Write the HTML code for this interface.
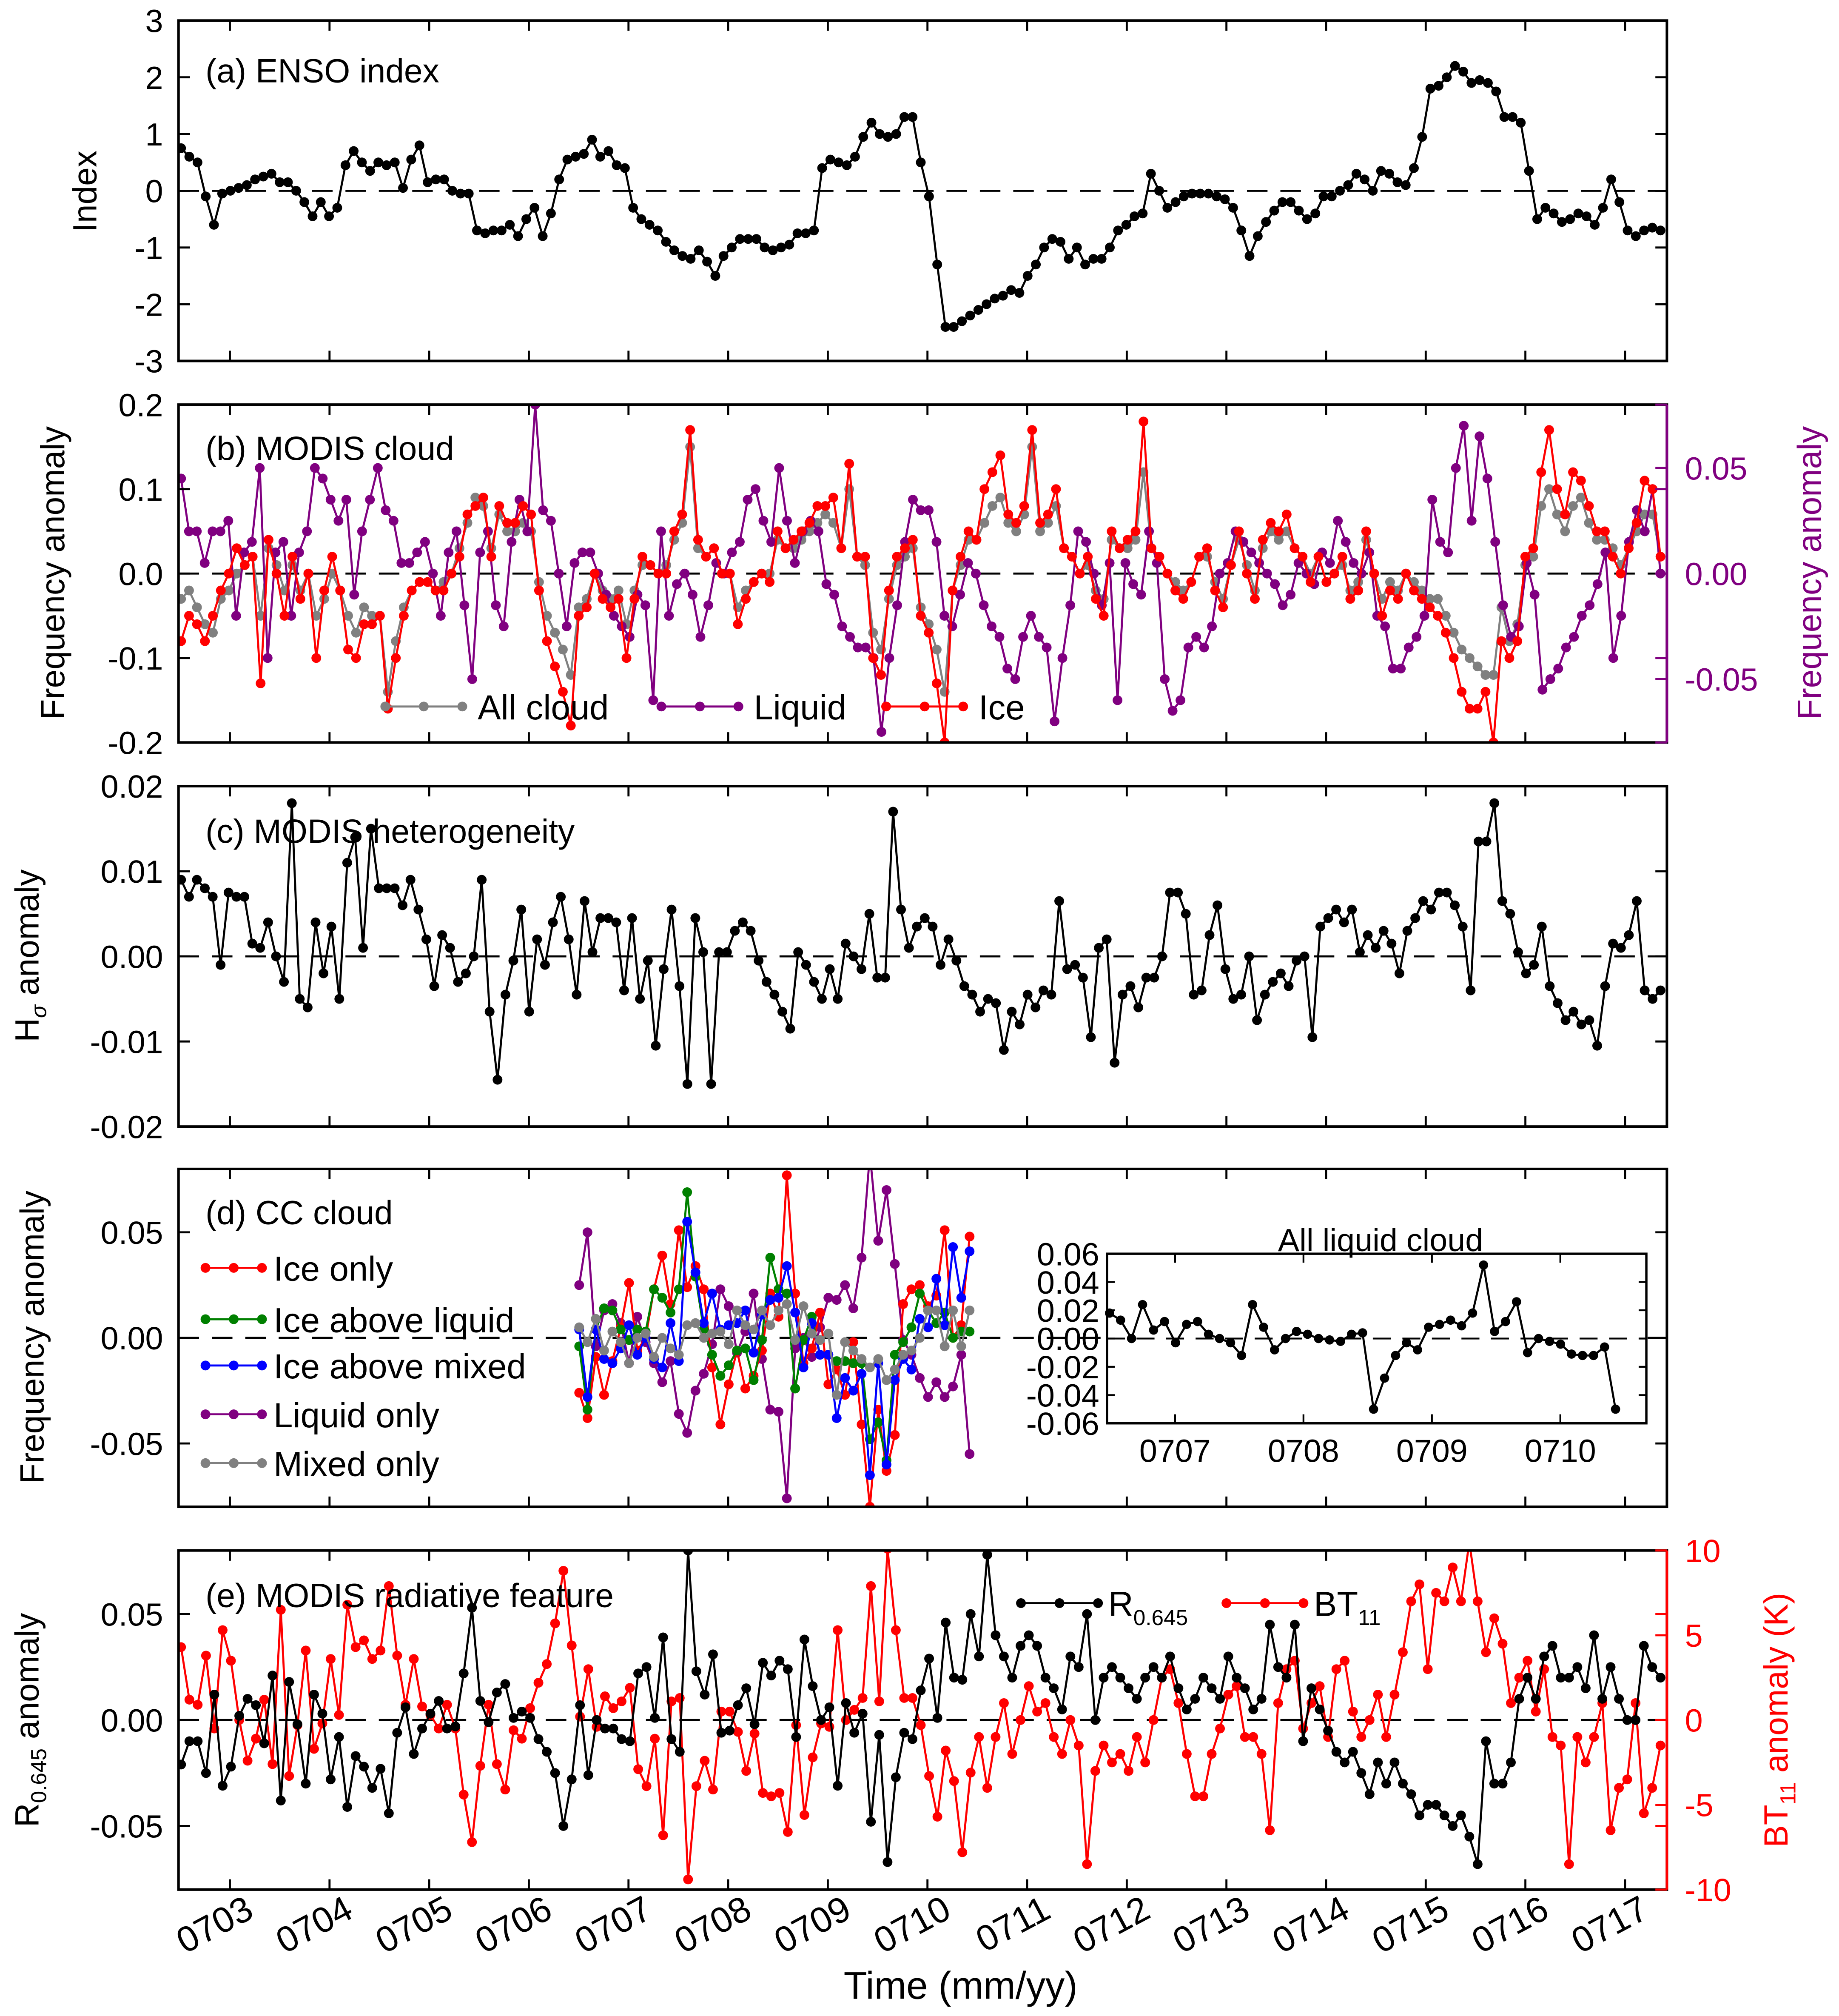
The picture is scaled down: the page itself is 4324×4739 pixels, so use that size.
<!DOCTYPE html>
<html><head><meta charset="utf-8"><style>
html,body{margin:0;padding:0;background:#fff}
svg{display:block}
text{font-family:"Liberation Sans",Arial,sans-serif}
</style></head><body>
<svg id="fig" xmlns="http://www.w3.org/2000/svg" width="4324" height="4739" viewBox="0 0 1432 1569.4" preserveAspectRatio="none">
<rect width="1432" height="1569.4" fill="#fff"/>
</svg>
<script>
// ---------- DATA ----------
const monthTicks = ["0703","0704","0705","0706","0707","0708","0709","0710","0711","0712","0713","0714","0715","0716","0717"];
const ensoIndex = [0.75,0.6,0.5,-0.1,-0.6,-0.05,0.0,0.05,0.1,0.2,0.25,0.3,0.15,0.15,0.0,-0.2,-0.45,-0.2,-0.45,-0.3,0.45,0.7,0.5,0.35,0.5,0.45,0.5,0.05,0.55,0.8,0.15,0.2,0.2,0.0,-0.05,-0.05,-0.7,-0.75,-0.7,-0.7,-0.6,-0.8,-0.5,-0.3,-0.8,-0.4,0.2,0.55,0.6,0.65,0.9,0.6,0.7,0.45,0.4,-0.3,-0.5,-0.6,-0.7,-0.9,-1.05,-1.15,-1.2,-1.05,-1.25,-1.5,-1.15,-1.0,-0.85,-0.85,-0.85,-1.0,-1.05,-1.0,-0.95,-0.75,-0.75,-0.7,0.4,0.55,0.5,0.45,0.6,0.95,1.2,1.0,0.95,1.0,1.3,1.3,0.5,-0.1,-1.3,-2.4,-2.4,-2.3,-2.2,-2.1,-2.0,-1.9,-1.85,-1.75,-1.8,-1.5,-1.3,-1.0,-0.85,-0.9,-1.2,-1.0,-1.3,-1.2,-1.2,-1.0,-0.7,-0.6,-0.45,-0.4,0.3,0.0,-0.3,-0.2,-0.1,-0.05,-0.05,-0.05,-0.1,-0.15,-0.3,-0.7,-1.15,-0.8,-0.55,-0.35,-0.2,-0.2,-0.35,-0.5,-0.4,-0.1,-0.1,0.0,0.1,0.3,0.2,0.0,0.35,0.3,0.15,0.1,0.4,0.95,1.8,1.85,2.0,2.2,2.1,1.9,1.95,1.9,1.75,1.3,1.3,1.2,0.35,-0.5,-0.3,-0.4,-0.55,-0.5,-0.4,-0.45,-0.6,-0.3,0.2,-0.2,-0.7,-0.8,-0.7,-0.65,-0.7];
const iceFreq = [-0.08,-0.05,-0.06,-0.08,-0.05,-0.02,0.0,0.03,0.01,0.02,-0.13,0.04,0.0,-0.05,0.02,-0.03,0.0,-0.1,-0.02,0.02,-0.02,-0.09,-0.1,-0.06,-0.06,-0.05,-0.16,-0.1,-0.05,-0.02,-0.01,-0.01,-0.02,-0.02,0.0,0.02,0.07,0.08,0.09,0.02,0.08,0.06,0.06,0.08,0.07,-0.02,-0.08,-0.11,-0.14,-0.18,-0.05,-0.04,0.0,-0.03,-0.04,-0.03,-0.1,-0.03,0.02,0.01,0.0,0.0,0.05,0.07,0.17,0.04,0.02,0.03,0.0,0.0,-0.06,-0.03,-0.01,0.0,-0.01,0.05,0.03,0.04,0.05,0.06,0.08,0.08,0.09,0.03,0.13,0.02,0.02,-0.1,-0.12,-0.02,0.02,0.03,0.04,-0.05,-0.07,-0.13,-0.2,-0.02,0.02,0.05,0.04,0.1,0.12,0.14,0.07,0.06,0.08,0.17,0.06,0.07,0.1,0.03,0.02,0.0,0.02,-0.03,-0.05,0.05,0.03,0.04,0.05,0.18,0.03,0.02,0.0,-0.02,-0.03,-0.01,0.02,0.03,-0.02,-0.04,0.01,0.05,0.0,-0.03,0.04,0.06,0.05,0.07,0.03,0.02,-0.01,0.02,-0.01,0.0,0.02,-0.03,-0.02,0.05,0.0,-0.05,-0.02,-0.03,0.0,-0.02,-0.03,-0.04,-0.05,-0.07,-0.1,-0.14,-0.16,-0.16,-0.14,-0.2,-0.08,-0.1,-0.08,0.02,0.03,0.12,0.17,0.1,0.07,0.12,0.11,0.08,0.05,0.05,0.02,0.0,0.03,0.06,0.11,0.1,0.02];
const allCloudFreq = [-0.03,-0.02,-0.04,-0.06,-0.07,-0.03,-0.02,0.0,0.01,0.02,-0.05,0.03,0.01,-0.02,0.01,-0.02,0.0,-0.05,-0.03,0.0,-0.02,-0.05,-0.07,-0.04,-0.05,-0.05,-0.14,-0.08,-0.04,-0.02,-0.01,-0.01,-0.02,-0.01,0.0,0.03,0.06,0.09,0.08,0.03,0.07,0.05,0.05,0.06,0.05,-0.01,-0.05,-0.07,-0.09,-0.12,-0.04,-0.03,0.0,-0.02,-0.03,-0.02,-0.06,-0.02,0.01,0.01,0.0,0.01,0.04,0.06,0.15,0.03,0.02,0.03,0.0,0.0,-0.04,-0.02,-0.01,0.0,0.0,0.04,0.03,0.03,0.04,0.05,0.06,0.07,0.06,0.03,0.1,0.02,0.01,-0.07,-0.09,-0.03,0.01,0.02,0.03,-0.04,-0.06,-0.09,-0.14,-0.02,0.01,0.04,0.04,0.06,0.08,0.09,0.06,0.05,0.07,0.15,0.05,0.06,0.08,0.03,0.02,0.0,0.01,-0.02,-0.03,0.04,0.03,0.03,0.04,0.12,0.03,0.02,0.0,-0.01,-0.02,-0.01,0.02,0.02,-0.01,-0.03,0.01,0.04,0.01,-0.02,0.03,0.05,0.04,0.05,0.03,0.02,0.0,0.02,-0.01,0.0,0.01,-0.02,-0.01,0.04,0.0,-0.03,-0.01,-0.02,0.0,-0.01,-0.02,-0.03,-0.03,-0.05,-0.07,-0.09,-0.1,-0.11,-0.12,-0.12,-0.04,-0.08,-0.06,0.01,0.02,0.08,0.1,0.07,0.05,0.08,0.09,0.06,0.04,0.04,0.03,0.01,0.03,0.05,0.07,0.07,0.02];
const liquidFreq = [0.045,0.02,0.02,0.005,0.02,0.02,0.025,-0.02,0.01,0.015,0.05,-0.04,0.01,0.015,-0.02,0.01,0.02,0.05,0.045,0.035,0.025,0.035,-0.01,0.02,0.035,0.05,0.03,0.025,0.005,0.005,0.01,0.015,0.0,-0.02,0.01,0.02,-0.015,-0.05,0.01,0.02,-0.015,-0.025,0.015,0.035,0.02,0.08,0.03,0.025,0.0,-0.025,0.005,0.01,0.01,0.0,-0.01,-0.02,-0.025,-0.03,-0.01,-0.015,-0.06,0.02,-0.02,-0.005,0.0,-0.01,-0.03,-0.015,0.005,0.0,0.01,0.015,0.035,0.04,0.025,0.015,0.05,0.025,0.005,0.02,0.025,0.02,-0.005,-0.01,-0.025,-0.03,-0.035,-0.035,-0.04,-0.075,-0.04,-0.015,0.015,0.035,0.03,0.03,0.015,-0.02,-0.025,-0.01,0.005,0.0,-0.015,-0.025,-0.03,-0.045,-0.05,-0.03,-0.02,-0.03,-0.035,-0.07,-0.04,-0.015,0.02,0.015,0.0,-0.015,0.005,-0.06,0.005,-0.005,-0.01,0.02,0.005,-0.05,-0.065,-0.06,-0.035,-0.03,-0.035,-0.025,0.0,0.005,0.02,0.015,0.01,0.005,0.0,-0.005,-0.015,-0.01,0.005,0.0,-0.005,0.01,0.005,0.025,0.015,0.005,0.0,0.01,-0.02,-0.025,-0.045,-0.045,-0.035,-0.03,-0.02,0.035,0.015,0.01,0.05,0.07,0.025,0.065,0.045,0.015,-0.015,-0.03,-0.025,0.005,-0.01,-0.055,-0.05,-0.045,-0.035,-0.03,-0.02,-0.015,-0.005,0.01,-0.04,-0.02,0.015,0.03,0.02,0.04,0.0];
const hetero = [0.009,0.007,0.009,0.008,0.007,-0.001,0.0075,0.007,0.007,0.0015,0.001,0.004,0.0,-0.003,0.018,-0.005,-0.006,0.004,-0.002,0.0035,-0.005,0.011,0.014,0.001,0.015,0.008,0.008,0.008,0.006,0.009,0.0055,0.002,-0.0035,0.0025,0.001,-0.003,-0.002,0.0,0.009,-0.0065,-0.0145,-0.0045,-0.0005,0.0055,-0.0065,0.002,-0.001,0.004,0.007,0.002,-0.0045,0.0065,0.0005,0.0045,0.0045,0.004,-0.004,0.0045,-0.005,-0.0005,-0.0105,-0.0015,0.0055,-0.0035,-0.015,0.0045,0.0005,-0.015,0.0005,0.0005,0.003,0.004,0.003,-0.0005,-0.003,-0.0045,-0.0065,-0.0085,0.0005,-0.001,-0.003,-0.005,-0.0015,-0.005,0.0015,0.0,-0.0015,0.005,-0.0025,-0.0025,0.017,0.0055,0.001,0.0035,0.0045,0.0035,-0.001,0.002,-0.0005,-0.0035,-0.0045,-0.0065,-0.005,-0.0055,-0.011,-0.0065,-0.008,-0.0045,-0.006,-0.004,-0.0045,0.0065,-0.0015,-0.001,-0.0025,-0.0095,0.001,0.002,-0.0125,-0.0045,-0.0035,-0.006,-0.0025,-0.0025,0.0,0.0075,0.0075,0.005,-0.0045,-0.004,0.0025,0.006,-0.0015,-0.005,-0.0045,0.0,-0.0075,-0.0045,-0.003,-0.002,-0.0035,-0.0005,0.0,-0.0095,0.0035,0.0045,0.0055,0.004,0.0055,0.0005,0.0025,0.001,0.003,0.0015,-0.002,0.003,0.0045,0.0065,0.0055,0.0075,0.0075,0.006,0.0035,-0.004,0.0135,0.0135,0.018,0.0065,0.005,0.0005,-0.002,-0.001,0.0035,-0.0035,-0.0055,-0.0075,-0.0065,-0.008,-0.0075,-0.0105,-0.0035,0.0015,0.001,0.0025,0.0065,-0.004,-0.005,-0.004];
const dIceOnly = [-0.026,-0.038,-0.009,-0.027,-0.011,0.005,0.026,-0.006,0.0,0.023,0.039,0.016,0.051,0.024,0.034,0.023,-0.014,-0.041,-0.022,-0.006,-0.024,-0.018,-0.006,0.021,0.010,0.077,0.021,-0.012,-0.005,0.012,-0.022,-0.015,-0.027,-0.002,-0.041,-0.08,-0.034,-0.063,-0.046,0.016,0.023,0.025,0.015,0.02,0.051,0.0,0.006,0.048];
const dIceAboveLiq = [-0.004,-0.034,0.004,0.014,0.013,0.004,-0.001,0.004,0.003,0.023,0.019,0.012,0.023,0.069,0.029,0.004,-0.008,-0.018,-0.013,-0.006,-0.005,-0.02,-0.001,0.038,0.023,0.021,-0.024,-0.001,0.01,-0.008,-0.008,-0.011,-0.011,-0.012,-0.012,-0.048,-0.04,-0.058,-0.008,-0.002,0.005,0.021,0.013,0.007,0.012,0.0,0.003,0.003];
const dIceAboveMix = [0.004,-0.028,0.004,-0.01,-0.012,-0.005,0.006,-0.008,0.0,-0.01,-0.014,0.007,-0.011,0.055,0.031,0.007,0.021,0.004,0.006,0.007,0.013,-0.007,0.011,0.018,0.019,0.034,0.012,-0.014,0.007,-0.008,-0.008,-0.038,-0.019,-0.025,-0.017,-0.065,-0.012,-0.06,-0.02,-0.01,-0.015,0.009,0.005,0.028,0.006,0.043,0.019,0.041];
const dLiquidOnly = [0.025,0.05,-0.004,0.013,0.016,0.007,-0.012,0.01,-0.002,-0.012,-0.021,-0.011,-0.036,-0.045,-0.025,-0.017,-0.003,0.023,0.015,-0.007,0.003,0.021,-0.01,-0.034,-0.035,-0.076,-0.005,0.0,-0.009,0.005,0.019,0.018,0.025,0.014,0.038,0.087,0.046,0.07,0.035,-0.001,-0.008,-0.019,-0.028,-0.021,-0.028,-0.023,-0.008,-0.055];
const dMixedOnly = [0.005,-0.002,0.009,-0.006,0.003,-0.002,-0.012,0.0,0.002,-0.009,0.0,-0.005,-0.008,0.006,0.007,0.0,0.002,0.003,-0.003,0.013,0.006,0.004,0.013,0.006,0.013,0.016,-0.001,0.015,0.002,-0.001,0.002,-0.027,-0.002,-0.006,-0.01,-0.014,-0.01,-0.02,-0.015,-0.008,-0.006,0.0,0.013,0.013,-0.004,0.013,-0.004,0.013];
const insetLiquid = [0.018,0.013,0.0,0.024,0.006,0.012,-0.003,0.01,0.012,0.003,0.0,-0.003,-0.012,0.024,0.008,-0.008,0.0,0.005,0.003,0.0,-0.001,-0.002,0.003,0.004,-0.05,-0.028,-0.012,-0.003,-0.008,0.008,0.01,0.013,0.009,0.018,0.052,0.005,0.012,0.026,-0.01,0.0,-0.002,-0.004,-0.011,-0.012,-0.012,-0.006,-0.05];
const insetTicks = ["0707","0708","0709","0710"];
const reflAnom = [-0.021,-0.01,-0.01,-0.025,0.012,-0.031,-0.022,0.002,0.01,0.007,-0.011,0.021,-0.038,0.018,-0.002,-0.03,0.012,0.003,-0.028,-0.008,-0.041,-0.017,-0.022,-0.032,-0.023,-0.044,-0.006,0.006,-0.016,-0.004,0.003,0.009,-0.004,-0.003,0.022,0.053,0.009,-0.001,0.013,0.017,0.001,0.004,0.001,-0.009,-0.015,-0.025,-0.05,-0.028,0.007,-0.026,0.0,-0.004,-0.004,-0.009,-0.01,0.022,0.025,0.001,0.039,-0.009,-0.015,0.08,0.023,0.012,0.031,-0.006,-0.005,0.007,0.015,-0.002,0.027,0.021,0.028,0.024,-0.008,0.038,0.016,0.0,0.006,-0.031,0.008,-0.006,0.003,-0.048,-0.007,-0.067,-0.027,-0.006,-0.009,0.014,0.029,0.001,0.046,0.02,0.019,0.05,0.03,0.078,0.04,0.03,0.02,0.035,0.04,0.035,0.02,0.015,0.005,0.03,0.025,0.05,0.0,0.02,0.025,0.02,0.015,0.01,0.02,0.025,0.02,0.03,0.015,0.005,0.01,0.02,0.015,0.01,0.03,0.02,0.015,0.005,0.01,0.045,0.025,0.02,0.045,-0.01,0.015,0.005,-0.005,-0.015,-0.02,-0.015,-0.025,-0.035,-0.02,-0.03,-0.02,-0.03,-0.035,-0.045,-0.04,-0.04,-0.045,-0.05,-0.045,-0.055,-0.068,-0.01,-0.03,-0.03,-0.02,0.01,0.02,0.01,0.03,0.035,0.02,0.02,0.025,0.015,0.04,0.01,0.025,0.01,0.0,0.0,0.035,0.025,0.02];
const btAnom = [4.3,1.2,0.9,3.8,-0.5,5.3,3.5,0.0,-2.4,-1.1,1.2,-2.6,6.5,-3.3,-0.3,4.1,-1.7,-0.2,3.6,0.3,6.8,4.3,4.7,3.6,4.1,7.9,3.8,0.9,3.6,0.8,0.3,-0.5,0.9,-0.5,-4.4,-7.2,-2.7,0.9,-2.6,-4.1,-0.6,-1.1,0.7,2.2,3.3,5.7,8.8,4.4,0.2,3.0,-0.4,1.4,0.7,1.1,1.9,-2.9,-3.9,-1.1,-6.8,1.1,1.3,-9.4,-3.9,-2.4,-4.1,0.5,0.5,-0.7,-3.0,-0.8,-4.3,-4.5,-4.3,-6.6,-0.3,-5.6,-2.2,-0.2,-0.4,5.3,0.0,0.6,1.3,7.9,1.1,10.1,5.3,1.3,1.3,-0.3,-3.3,-5.7,-1.8,-3.6,-7.8,-3.1,-1.0,-4.0,-1.0,1.0,-2.0,0.0,2.0,0.5,1.0,-1.0,-2.0,0.0,-1.5,-8.5,-3.0,-1.5,-2.5,-2.0,-3.0,-1.0,-2.5,0.0,2.5,3.0,1.0,-2.0,-4.5,-4.5,-2.0,-0.5,1.5,2.0,-1.0,-1.0,-2.0,-6.5,1.0,3.0,3.5,-0.5,1.0,2.0,-1.0,3.0,3.5,0.5,-1.0,0.0,1.5,-1.0,1.5,4.0,7.0,8.0,3.0,7.5,7.0,9.0,7.0,10.5,7.0,4.0,6.0,4.5,1.0,2.5,3.5,0.5,3.0,-1.0,-1.5,-8.5,-1.0,-2.5,-1.0,1.0,-6.5,-4.0,-3.5,1.0,-5.5,-4.0,-1.5];

// ---------- HELPERS ----------
const SVGNS = "http://www.w3.org/2000/svg";
const svg = document.getElementById("fig");
const X0 = 139, X1 = 1298;
const TICK0 = 179, TICKSTEP = 77.6;
function el(tag, attrs, parent) {
  const e = document.createElementNS(SVGNS, tag);
  for (const k in attrs) e.setAttribute(k, attrs[k]);
  (parent || svg).appendChild(e);
  return e;
}
function txt(str, x, y, size, anchor, fill, parent, rot) {
  const t = el("text", {x: x, y: y, "font-size": size, "text-anchor": anchor || "start", fill: fill || "#000"}, parent);
  if (rot) t.setAttribute("transform", "rotate(" + rot + " " + x + " " + y + ")");
  t.textContent = str;
  return t;
}
function yScale(top, bot, min, max) { return v => bot - (v - min) / (max - min) * (bot - top); }
function series(vals, xa, xb, ys, color, name, r) {
  const g = el("g", {});
  
  
  const n = vals.length;
  const xs = i => xa + i * (xb - xa) / (n - 1);
  let d = "";
  vals.forEach((v, i) => { d += (i ? "L" : "M") + xs(i).toFixed(2) + " " + ys(v).toFixed(2); });
  el("path", {d: d, fill: "none", stroke: color, "stroke-width": 1.6}, g);
  vals.forEach((v, i) => {
    const c = el("circle", {cx: xs(i), cy: ys(v), r: r || 3.8, fill: color}, g);
    
    
  });
  return g;
}
function frame(top, bot, name, xticks) {
  const g = el("g", {});
  
  
  const cid = name + "-clip";
  const cp = el("clipPath", {id: cid}, g);
  el("rect", {x: X0, y: top, width: X1 - X0, height: bot - top}, cp);
  if (xticks) {
    monthTicks.forEach((m, k) => {
      const x = TICK0 + k * TICKSTEP;
      el("line", {x1: x, x2: x, y1: top, y2: top + 8, stroke: "#000", "stroke-width": 1.6}, g);
      el("line", {x1: x, x2: x, y1: bot, y2: bot - 8, stroke: "#000", "stroke-width": 1.6}, g);
    });
  }
  el("line", {x1: X0, x2: X1, y1: (top + bot) / 2, y2: (top + bot) / 2, stroke: "#000", "stroke-width": 1.6, "stroke-dasharray": "16,10"}, g);
  return {g: g, cid: cid};
}
function box(top, bot, rightColor) {
  el("rect", {x: X0, y: top, width: X1 - X0, height: bot - top, fill: "none", stroke: "#000", "stroke-width": 2});
  if (rightColor) el("line", {x1: X1, x2: X1, y1: top, y2: bot, stroke: rightColor, "stroke-width": 2});
}
function yticks(vals, labels, ys, side, color, size) {
  vals.forEach((v, i) => {
    const y = ys(v);
    if (side === "left") {
      el("line", {x1: X0, x2: X0 + 9, y1: y, y2: y, stroke: "#000", "stroke-width": 1.6});
      el("line", {x1: X1, x2: X1 - 9, y1: y, y2: y, stroke: color || "#000", "stroke-width": 1.6});
      txt(labels[i], X0 - 12, y + 9, size || 25, "end");
    } else {
      el("line", {x1: X1, x2: X1 - 9, y1: y, y2: y, stroke: color, "stroke-width": 1.6});
      txt(labels[i], X1 + 14, y + 9, size || 25, "start", color);
    }
  });
}
function clipG(cid, name) {
  const g = el("g", {"clip-path": "url(#" + cid + ")"});
  
  
  return g;
}
const XA = 141, XB = 1293;

// ---------- PANEL A ----------
{
  const top = 16, bot = 281;
  const ys = yScale(top, bot, -3, 3);
  const f = frame(top, bot, "panel-a-enso", true);
  const g = clipG(f.cid, "panel-a-plot");
  g.appendChild(series(ensoIndex, XA, XB, ys, "#000", "enso-index-series"));
  box(top, bot);
  yticks([-3,-2,-1,0,1,2,3], ["-3","-2","-1","0","1","2","3"], ys, "left");
  txt("(a) ENSO index", 160, 64, 26);
  txt("Index", 75, 149, 26, "middle", "#000", null, -90);
}
// ---------- PANEL B ----------
{
  const top = 315, bot = 578;
  const ys = yScale(top, bot, -0.2, 0.2);
  const yr = yScale(top, bot, -0.08, 0.08);
  const f = frame(top, bot, "panel-b-modis-cloud", true);
  const g = clipG(f.cid, "panel-b-plot");
  g.appendChild(series(allCloudFreq, XA, XB, ys, "#808080", "all-cloud-series"));
  g.appendChild(series(liquidFreq, XA, XB, yr, "#800080", "liquid-series"));
  g.appendChild(series(iceFreq, XA, XB, ys, "#ff0000", "ice-series"));
  box(top, bot, "#800080");
  yticks([-0.2,-0.1,0,0.1,0.2], ["-0.2","-0.1","0.0","0.1","0.2"], ys, "left", "#800080");
  yticks([-0.05,0,0.05], ["-0.05","0.00","0.05"], yr, "right", "#800080");
  txt("(b) MODIS  cloud", 160, 358, 26);
  txt("Frequency anomaly", 50, 446, 26, "middle", "#000", null, -90);
  txt("Frequency anomaly", 1418, 446, 26, "middle", "#800080", null, -90);
  const leg = [["#808080","All cloud",300],["#800080","Liquid",515],["#ff0000","Ice",690]];
  leg.forEach(([c, l, x]) => {
    const lg = el("g", {});
    
    
    el("line", {x1: x, x2: x + 60, y1: 550, y2: 550, stroke: c, "stroke-width": 1.6}, lg);
    [0,30,60].forEach(o => el("circle", {cx: x + o, cy: 550, r: 3.8, fill: c}, lg));
    txt(l, x + 72, 560, 27, "start", "#000", lg);
  });
}
// ---------- PANEL C ----------
{
  const top = 612, bot = 877;
  const ys = yScale(top, bot, -0.02, 0.02);
  const f = frame(top, bot, "panel-c-heterogeneity", true);
  const g = clipG(f.cid, "panel-c-plot");
  g.appendChild(series(hetero, XA, XB, ys, "#000", "heterogeneity-series"));
  box(top, bot);
  yticks([-0.02,-0.01,0,0.01,0.02], ["-0.02","-0.01","0.00","0.01","0.02"], ys, "left");
  txt("(c) MODIS  heterogeneity", 160, 656, 26);
  const yl = el("text", {x: 30, y: 744, "font-size": 26, "text-anchor": "middle", transform: "rotate(-90 30 744)"});
  
  
  yl.innerHTML = 'H<tspan font-size="17" font-style="italic" dy="6">σ</tspan><tspan dy="-6">  anomaly</tspan>';
}
// ---------- PANEL D ----------
{
  const top = 910, bot = 1173;
  const ys = yScale(top, bot, -0.08, 0.08);
  const f = frame(top, bot, "panel-d-cc-cloud", true);
  const g = clipG(f.cid, "panel-d-plot");
  const da = 451, db = 755;
  g.appendChild(series(dLiquidOnly, da, db, ys, "#800080", "liquid-only-series"));
  g.appendChild(series(dIceOnly, da, db, ys, "#ff0000", "ice-only-series"));
  g.appendChild(series(dIceAboveLiq, da, db, ys, "#008000", "ice-above-liquid-series"));
  g.appendChild(series(dIceAboveMix, da, db, ys, "#0000ff", "ice-above-mixed-series"));
  g.appendChild(series(dMixedOnly, da, db, ys, "#808080", "mixed-only-series"));
  box(top, bot);
  yticks([-0.05,0,0.05], ["-0.05","0.00","0.05"], ys, "left");
  txt("(d) CC  cloud", 160, 953, 26);
  txt("Frequency anomaly", 34, 1041, 26, "middle", "#000", null, -90);
  const leg = [["#ff0000","Ice only",987],["#008000","Ice above liquid",1027],["#0000ff","Ice above mixed",1063],["#800080","Liquid only",1101],["#808080","Mixed only",1139]];
  leg.forEach(([c, l, y]) => {
    const lg = el("g", {});
    
    
    el("line", {x1: 160, x2: 204, y1: y, y2: y, stroke: c, "stroke-width": 1.6}, lg);
    [160,182,204].forEach(o => el("circle", {cx: o, cy: y, r: 3.8, fill: c}, lg));
    txt(l, 213, y + 10, 27, "start", "#000", lg);
  });
  const it = 976, ib = 1108, ix0 = 862, ix1 = 1282;
  const iy = yScale(it, ib, -0.06, 0.06);
  const ig = el("g", {});
  
  
  el("rect", {x: ix0, y: it, width: ix1 - ix0, height: ib - it, fill: "#fff", stroke: "none"}, ig);
  el("line", {x1: ix0, x2: ix1, y1: iy(0), y2: iy(0), stroke: "#000", "stroke-width": 1.4, "stroke-dasharray": "14,9"}, ig);
  ig.appendChild(series(insetLiquid, 864, 1258, iy, "#000", "inset-liquid-series", 3.6));
  el("rect", {x: ix0, y: it, width: ix1 - ix0, height: ib - it, fill: "none", stroke: "#000", "stroke-width": 1.8}, ig);
  const ivals = [-0.06,-0.04,-0.02,0,0.02,0.04,0.06], il = ["-0.06","-0.04","-0.02","0.00","0.02","0.04","0.06"];
  ivals.forEach((v, i) => {
    el("line", {x1: ix0, x2: ix0 + 6, y1: iy(v), y2: iy(v), stroke: "#000", "stroke-width": 1.4}, ig);
    el("line", {x1: ix1, x2: ix1 - 6, y1: iy(v), y2: iy(v), stroke: "#000", "stroke-width": 1.4}, ig);
    txt(il[i], ix0 - 6, iy(v) + 9, 25, "end", "#000", ig);
  });
  insetTicks.forEach((m, k) => {
    const x = 915 + k * 100;
    el("line", {x1: x, x2: x, y1: ib, y2: ib - 7, stroke: "#000", "stroke-width": 1.4}, ig);
    el("line", {x1: x, x2: x, y1: it, y2: it + 7, stroke: "#000", "stroke-width": 1.4}, ig);
    txt(m, x, ib + 30, 25, "middle", "#000", ig);
  });
  txt("All  liquid  cloud", 1075, 974, 25, "middle", "#000", ig);
}
// ---------- PANEL E ----------
{
  const top = 1207, bot = 1471;
  const ys = yScale(top, bot, -0.08, 0.08);
  const yr = yScale(top, bot, -10, 10);
  const f = frame(top, bot, "panel-e-radiative", true);
  const g = clipG(f.cid, "panel-e-plot");
  g.appendChild(series(btAnom, XA, XB, yr, "#ff0000", "bt11-series"));
  g.appendChild(series(reflAnom, XA, XB, ys, "#000", "r0645-series"));
  box(top, bot, "#ff0000");
  yticks([-0.05,0,0.05], ["-0.05","0.00","0.05"], ys, "left", "#ff0000");
  yticks([-10,-5,0,5,10], ["-10","-5","0","5","10"], yr, "right", "#ff0000");
  txt("(e) MODIS  radiative  feature", 160, 1251, 26);
  const yl = el("text", {x: 30, y: 1339, "font-size": 26, "text-anchor": "middle", transform: "rotate(-90 30 1339)"});
  yl.innerHTML = 'R<tspan font-size="17" dy="6">0.645</tspan><tspan dy="-6">  anomaly</tspan>';
  const yr2 = el("text", {x: 1392, y: 1339, "font-size": 26, "text-anchor": "middle", fill: "#ff0000", transform: "rotate(-90 1392 1339)"});
  yr2.innerHTML = 'BT<tspan font-size="17" dy="6">11</tspan><tspan dy="-6"> anomaly (K)</tspan>';
  const leg = [["#000","R",795,"0.645"],["#ff0000","BT",955,"11"]];
  leg.forEach(([c, l, x, sub]) => {
    const lg = el("g", {});
    
    
    el("line", {x1: x, x2: x + 60, y1: 1248, y2: 1248, stroke: c, "stroke-width": 1.6}, lg);
    [0,30,60].forEach(o => el("circle", {cx: x + o, cy: 1248, r: 3.8, fill: c}, lg));
    const t = el("text", {x: x + 68, y: 1258, "font-size": 27}, lg);
    t.innerHTML = l + '<tspan font-size="17" dy="7">' + sub + '</tspan>';
  });
  monthTicks.forEach((m, k) => {
    const x = TICK0 + k * TICKSTEP;
    const t = txt(m, x + 20, 1492, 28, "end", "#000", null, -28);
    
    
  });
  const xt = txt("Time (mm/yy)", 748, 1556, 30, "middle");
  
  
}
</script>
</body></html>
